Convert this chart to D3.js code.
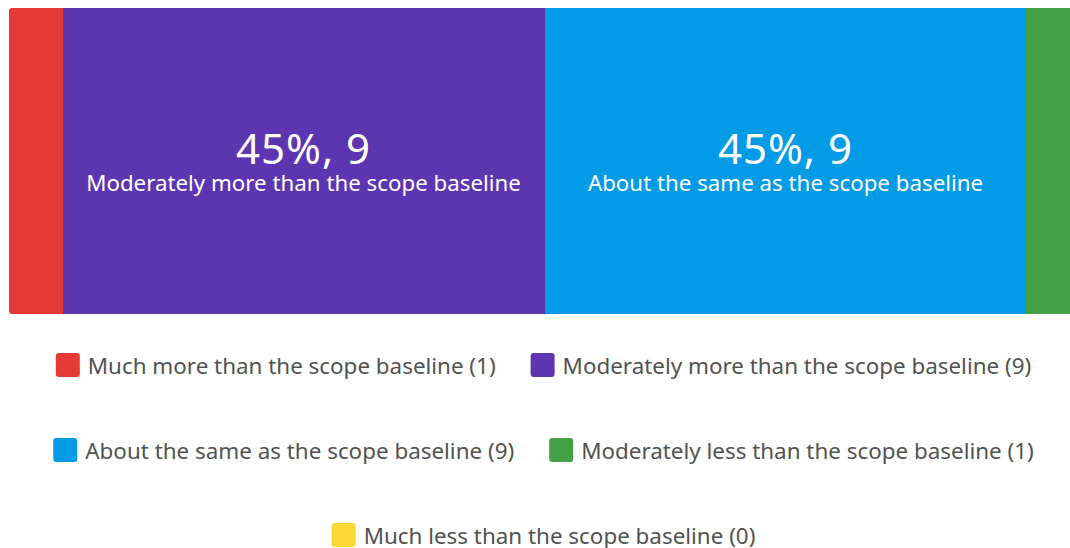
<!DOCTYPE html>
<html>
<head>
<meta charset="utf-8">
<script src="https://cdn.jsdelivr.net/npm/d3@7"></script>
<style>
  html, body { margin: 0; padding: 0; background: #fff; overflow: hidden; }
  svg { display: block; font-family: "Noto Sans", "Open Sans", sans-serif; }
</style>
</head>
<body>
<svg id="chart" width="1070" height="548"></svg>
<script>
const categories = [
  "Much more than the scope baseline",
  "Moderately more than the scope baseline",
  "About the same as the scope baseline",
  "Moderately less than the scope baseline",
  "Much less than the scope baseline"
];
const counts = [1, 9, 9, 1, 0];
const colors = ["#E53935", "#5E35B1", "#039BE5", "#43A047", "#FDD835"];
const legendRows = [[0, 1], [2, 3], [4]];

const svg = d3.select("#chart");
const total = d3.sum(counts);

const barTop = 8, barBottom = 314;
const x = d3.scaleLinear().domain([0, total]).range([9, 1080]);

const starts = [];
let acc = 0;
counts.forEach(c => { starts.push(acc); acc += c; });

const segs = categories.map((c, i) => ({ name: c, count: counts[i], start: starts[i], color: colors[i], pct: Math.round(counts[i] / total * 100) }));

svg.append("defs").append("clipPath").attr("id", "barClip")
  .append("rect")
  .attr("x", x(0)).attr("y", barTop)
  .attr("width", x(total) - x(0)).attr("height", barBottom - barTop)
  .attr("rx", 3).attr("ry", 3);

const bar = svg.append("g").attr("clip-path", "url(#barClip)");
bar.selectAll("rect.seg")
  .data(segs.filter(d => d.count > 0))
  .join("rect")
  .attr("class", "seg")
  .attr("x", d => Math.round(x(d.start)))
  .attr("y", barTop)
  .attr("width", d => Math.round(x(d.start + d.count)) - Math.round(x(d.start)))
  .attr("height", barBottom - barTop)
  .attr("fill", d => d.color);

const labels = svg.append("g").selectAll("g")
  .data(segs.filter(d => x(d.start + d.count) - x(d.start) > 200))
  .join("g")
  .attr("transform", d => `translate(${(x(d.start) + x(d.start + d.count)) / 2},0)`);
labels.append("text")
  .attr("y", 164)
  .attr("text-anchor", "middle")
  .attr("fill", "#fff")
  .attr("font-size", 42)
  .attr("letter-spacing", 1)
  .text(d => `${d.pct}%, ${d.count}`);
labels.append("text")
  .attr("y", 191)
  .attr("text-anchor", "middle")
  .attr("fill", "#fff")
  .attr("font-size", 22.3)
  .text(d => d.name);

// legend
const rowY = [365, 450, 535];
const centerX = 543.5;
const sw = 24, gapSwText = 8, gapItems = 35;
const legend = svg.append("g");
legendRows.forEach((row, ri) => {
  const g = legend.append("g");
  const items = row.map(i => {
    const t = g.append("text")
      .attr("font-size", 22.4)
      .attr("fill", "#525252")
      .text(`${categories[i]} (${counts[i]})`);
    return { i, t, w: t.node().getComputedTextLength() };
  });
  const totalW = d3.sum(items, d => sw + gapSwText + d.w) + gapItems * (items.length - 1);
  let cx = centerX - totalW / 2;
  items.forEach(it => {
    g.append("rect")
      .attr("x", cx).attr("y", rowY[ri] - sw / 2)
      .attr("width", sw).attr("height", sw)
      .attr("rx", 3).attr("ry", 3)
      .attr("fill", colors[it.i]);
    it.t.attr("x", cx + sw + gapSwText).attr("y", rowY[ri] + 8.5);
    cx += sw + gapSwText + it.w + gapItems;
  });
});
</script>
</body>
</html>
